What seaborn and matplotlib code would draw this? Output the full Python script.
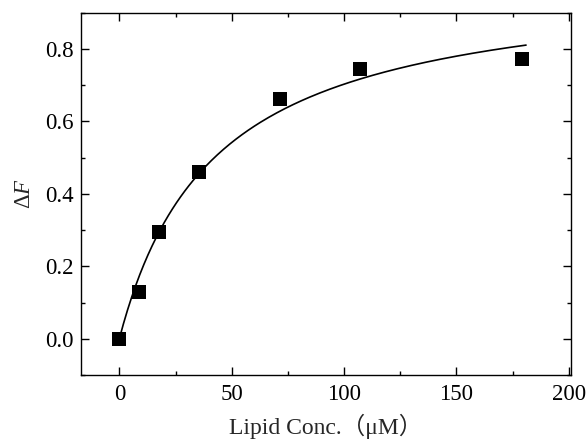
import matplotlib
matplotlib.use("Agg")
import matplotlib.pyplot as plt
import numpy as np
import pandas as pd
import seaborn as sns

# measured points
lipid_conc = [0, 8.8, 17.7, 35.6, 71.5, 107.1, 179.0]
delta_f = [0.0, 0.128, 0.294, 0.461, 0.662, 0.745, 0.773]

# hyperbolic binding fit: dF = f_max * c / (kd + c)
f_max = 1.0
kd = 42.3
fit_x = np.linspace(0, 181, 200)
fit_y = f_max * fit_x / (kd + fit_x)

sns.set_style("ticks")
plt.rcParams["font.family"] = ["Liberation Serif", "Noto Sans CJK SC"]
plt.rcParams["mathtext.fontset"] = "custom"
plt.rcParams["mathtext.it"] = "Liberation Serif:italic"
plt.rcParams["mathtext.rm"] = "Liberation Serif"

points = pd.DataFrame({"conc": lipid_conc, "dF": delta_f})
fit = pd.DataFrame({"conc": fit_x, "dF": fit_y})

fig = plt.figure(figsize=(5.86, 4.41), dpi=100)
ax = fig.add_axes([0.1377, 0.1497, 0.8367, 0.8215])

sns.lineplot(data=fit, x="conc", y="dF", ax=ax, color="black", linewidth=1.2)
sns.scatterplot(data=points, x="conc", y="dF", ax=ax, marker="s", s=90,
                color="black", edgecolor="black", linewidth=0, zorder=3)

ax.set_xlim(-17.2, 201)
ax.set_ylim(-0.1, 0.9)
ax.set_xticks([0, 50, 100, 150, 200])
ax.set_xticks([25, 75, 125, 175], minor=True)
ax.set_yticks([0.0, 0.2, 0.4, 0.6, 0.8])
ax.set_yticks([-0.1, 0.1, 0.3, 0.5, 0.7, 0.9], minor=True)
ax.yaxis.set_major_formatter(matplotlib.ticker.FormatStrFormatter("%.1f"))

ax.tick_params(which="both", direction="in", top=True, right=True,
               width=1.0, labelsize=16.5, colors="black")
ax.tick_params(which="major", length=6)
ax.tick_params(which="minor", length=3)
ax.tick_params(axis="x", which="major", pad=6.5)
ax.tick_params(axis="y", which="major", pad=5)
for spine in ax.spines.values():
    spine.set_visible(True)
    spine.set_linewidth(1.0)
    spine.set_color("black")

ax.set_xlabel("Lipid Conc.（μM）", fontsize=17, labelpad=6)
ax.set_ylabel(r"Δ$F$", fontsize=16.5, labelpad=7)

fig.savefig("out.png", dpi=100)
